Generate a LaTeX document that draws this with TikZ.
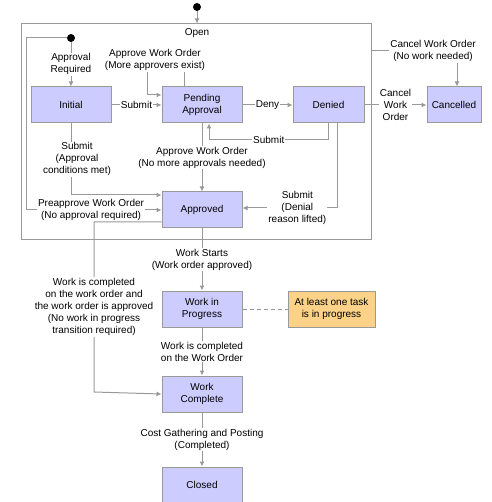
\documentclass[tikz,border=0pt]{standalone}
\usepackage{fontspec}
\setmainfont{Liberation Sans}
\usetikzlibrary{
    arrows.meta,
    positioning,
    calc
}
\definecolor{statefill}{HTML}{CCCCFF}
\definecolor{notefill}{HTML}{FBD287}
\definecolor{linegray}{HTML}{999999}
\tikzset{
    state/.style = {
        rectangle,
        draw=linegray,
        line width=1pt,
        fill=statefill,
        minimum width=80pt,
        minimum height=36pt,
        inner sep=1pt,
        align=center
    },
    note/.style = {
        rectangle,
        draw=linegray,
        line width=1pt,
        fill=notefill,
        minimum width=87pt,
        minimum height=36pt,
        inner sep=1pt,
        align=center
    },
    startdot/.style = {
        circle,
        fill=black,
        minimum size=8pt,
        inner sep=0pt
    },
    lbl/.style = {
        fill=white,
        inner sep=1pt,
        align=center
    },
    arrow/.style = {
        -{Latex[length=5pt,width=5pt]},
        draw=linegray,
        line width=1pt
    }
}

\begin{document}
\begin{tikzpicture}[x=1pt,y=-1pt,font=\fontsize{10}{12}\selectfont]
\useasboundingbox (0,0) rectangle (491,502);
\node (open) [draw=linegray,line width=1pt,minimum width=350pt,minimum height=215pt] at (196,131.5) {};
\node (openlbl) at (197,33) {Open};
\node (start) [startdot] at (197,7) {};
\node (init) [startdot] at (71,38) {};
\node (initial) [state] at (71,105) {Initial};
\node (pending) [state,right=50pt of initial] {Pending\\Approval};
\node (denied) [state,right=50pt of pending,minimum width=71pt] {Denied};
\node (cancelled) [state,right=62pt of denied,minimum width=54pt] {Cancelled};
\node (approved) [state,below=68pt of pending] {Approved};
\node (progress) [state,below=62pt of approved] {Work in\\Progress};
\node (note) [note,right=45pt of progress] {At least one task\\is in progress};
\node (complete) [state,below=48pt of progress] {Work\\Complete};
\node (closed) [state,below=54pt of complete] {Closed};
\node (moreappr) [lbl] at (155,60) {Approve Work Order\\(More approvers exist)};
\node (nowork) [lbl] at (433,51) {Cancel Work Order\\(No work needed)};
\coordinate (preL) at (26,38);
\coordinate (loopL) at (147,95);
\coordinate (subback) at (209,140);
\coordinate (liftR) at (337,208);
\coordinate (skipB) at (94,392);

\draw[arrow] (start) -- (start |- open.north);
\draw[arrow] (init) -- node[lbl] {Approval\\Required} (initial);
\draw[arrow] (init) -- (preL) |- node[lbl,pos=0.74] {Preapprove Work Order\\(No approval required)} (approved.west);
\draw[arrow] (initial) -- node[lbl] {Submit} (pending);
\draw[draw=linegray,line width=1pt] ([xshift=-18pt]pending.north) -- ([xshift=-18pt]pending.north |- moreappr.south);
\draw[arrow] (loopL |- moreappr.south) -- (loopL) -- (loopL -| pending.west);
\draw[arrow] (pending) -- node[lbl] {Deny} (denied);
\draw[arrow] (denied) -- node[lbl] {Cancel\\Work\\Order} (cancelled);
\draw[draw=linegray,line width=1pt] (nowork.west -| open.east) -- (nowork.west);
\draw[arrow] ([xshift=24pt]nowork.south) -- ([xshift=24pt]nowork.south |- cancelled.north);
\draw[arrow] (denied.south) |- node[lbl,pos=0.75] {Submit} (subback) -- (subback |- pending.south);
\draw[arrow] (liftR |- denied.south) -- (liftR) -- node[lbl,pos=0.42] {Submit\\(Denial\\reason lifted)} (liftR -| approved.east);
\draw[arrow] (initial) |- node[lbl,pos=0.25,xshift=6pt] {Submit\\(Approval\\conditions met)} ([yshift=15pt]approved.west);
\draw[arrow] (pending) -- node[lbl] {Approve Work Order\\(No more approvals needed)} (approved);
\draw[arrow] (approved) -- node[lbl] {Work Starts\\(Work order approved)} (progress);
\draw[arrow] ([yshift=-12pt]approved.west) -| node[lbl,pos=0.75] {Work is completed\\on the work order and\\the work order is approved\\(No work in progress\\transition required)} (skipB) -- (complete.west);
\draw[arrow] (progress) -- node[lbl] {Work is completed\\on the Work Order} (complete);
\draw[draw=linegray,line width=1pt,dash pattern=on 4pt off 3pt] (progress) -- (note);
\draw[arrow] (complete) -- node[lbl] {Cost Gathering and Posting\\(Completed)} (closed);
\end{tikzpicture}
\end{document}
